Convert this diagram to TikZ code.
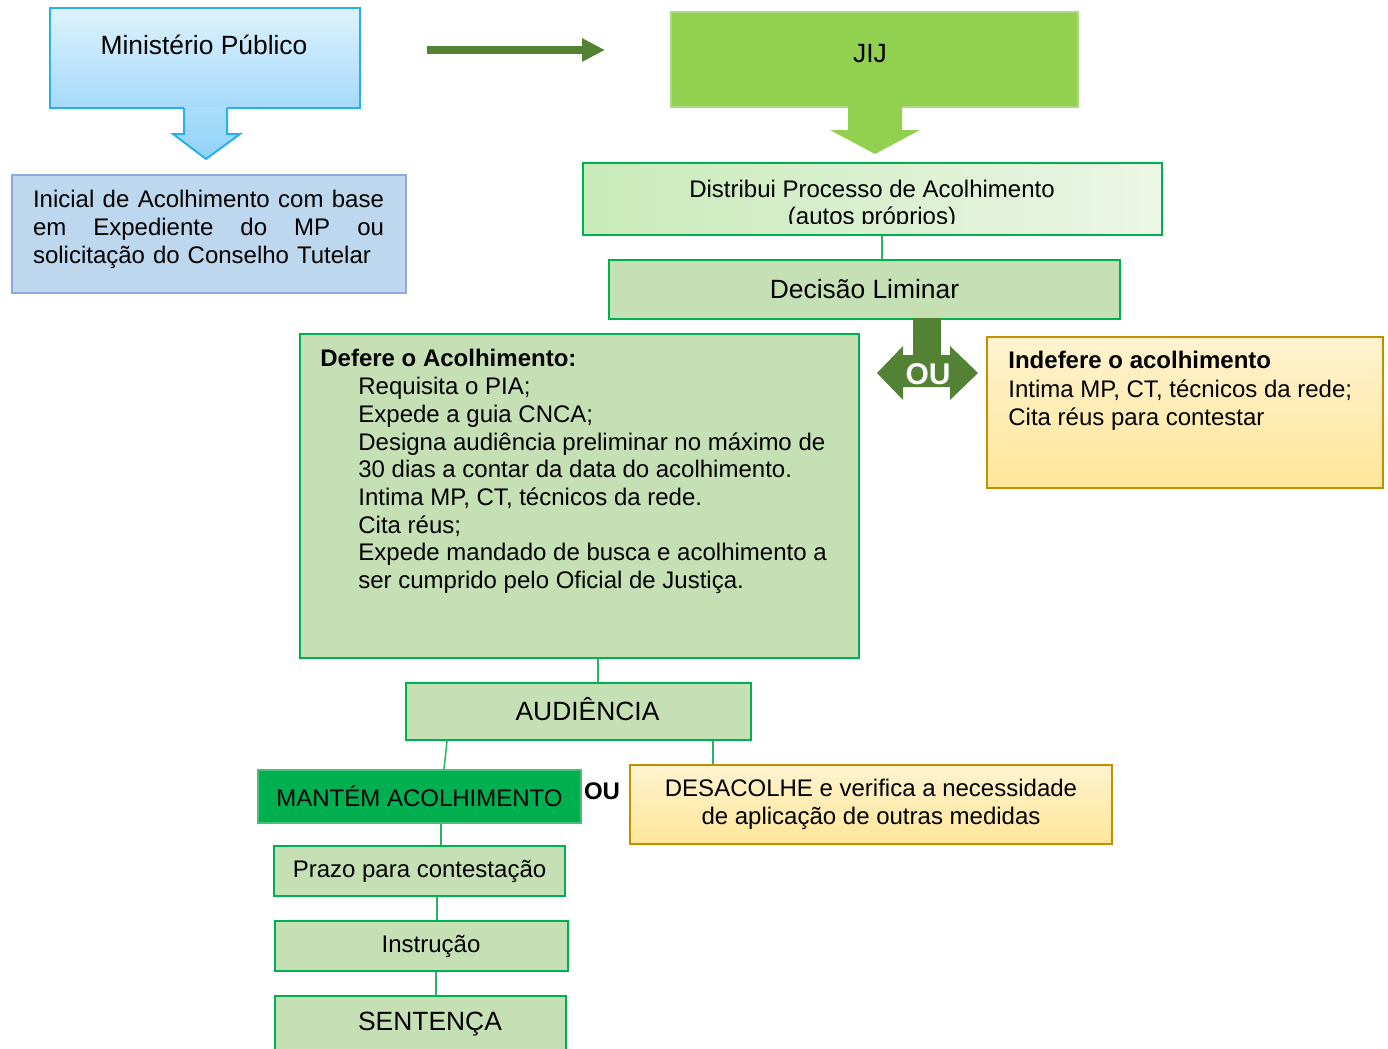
\documentclass[tikz,border=0pt]{standalone}
\usepackage{fontspec}
\setmainfont{Liberation Sans}
\usetikzlibrary{positioning,arrows.meta}

\definecolor{mptopo}{RGB}{222,242,253}
\definecolor{mpbase}{RGB}{165,218,250}
\definecolor{mpborda}{RGB}{40,176,235}
\definecolor{setatopo}{RGB}{170,222,250}
\definecolor{setabase}{RGB}{145,210,248}
\definecolor{inifundo}{RGB}{189,215,238}
\definecolor{iniborda}{RGB}{143,170,220}
\definecolor{jijverde}{RGB}{146,208,80}
\definecolor{jijborda}{RGB}{170,218,130}
\definecolor{escuro}{RGB}{84,130,53}
\definecolor{verdeclaro}{RGB}{197,224,180}
\definecolor{verdevivo}{RGB}{0,176,80}
\definecolor{mantemborda}{RGB}{70,195,120}
\definecolor{distesq}{RGB}{200,234,185}
\definecolor{distdir}{RGB}{236,246,230}
\definecolor{amarelotopo}{RGB}{255,243,208}
\definecolor{amarelobase}{RGB}{255,230,153}
\definecolor{ouro}{RGB}{191,144,0}
\definecolor{verdelinha}{RGB}{40,180,100}

\begin{document}
\begin{tikzpicture}[x=0.5pt,y=-0.5pt,
        caixa/.style={draw,line width=1pt,inner sep=0pt},
        verde/.style={caixa,draw=verdevivo,fill=verdeclaro},
        amarela/.style={caixa,draw=ouro,top color=amarelotopo,bottom color=amarelobase},
        ligacao/.style={draw=verdelinha,line width=0.75pt},
        setaescura/.style={draw=escuro,line width=4pt,-{Triangle[width=11pt,length=11.5pt]}},
        letra/.style={font=\fontsize{12}{13.85}\selectfont},
        letragrande/.style={font=\fontsize{13.2}{15}\selectfont},
        negrito/.style={font=\bfseries\fontsize{12}{13.85}\selectfont}]
                \useasboundingbox (0,0) rectangle (1388,1049);
                \node[caixa,draw=mpborda,top color=mptopo,bottom color=mpbase,minimum width=155pt,minimum height=50pt] (mp) at (205,58) {};
                \node[letragrande] (mptxt) at (204,45) {Ministério Público};
                \shade[top color=setatopo,bottom color=setabase] (184,107) -- (227,107) -- (227,134) -- (240,134) -- (206,159) -- (173,134) -- (184,134) -- cycle;
                \draw[mpborda,line width=1pt] (184,108) -- (184,134) -- (173,134) -- (206,159) -- (240,134) -- (227,134) -- (227,108);
                \node[caixa,draw=iniborda,fill=inifundo,minimum width=197pt,minimum height=59pt] (inicial) at (209,234) {};
                \node[letra,text width=175.5pt,align=left,anchor=north,inner sep=0pt] (initxt) at (208.5,190) {Inicial\hfill de\hfill Acolhimento\hfill com\hfill base\\em\hfill Expediente\hfill do\hfill MP\hfill ou\\solicitação do Conselho Tutelar};
                \node[caixa,draw=jijborda,fill=jijverde,minimum width=203.5pt,minimum height=47.5pt] (jij) at (874.5,59.5) {};
                \node[letragrande] (jijtxt) at (870,54) {JIJ};
                \coordinate (h1) at ([xshift=33pt,yshift=4pt]mp.east);
                \coordinate (h2) at ([xshift=-32.5pt]jij.west);
                \draw[setaescura] (h1) -- (h1 -| h2);
                \fill[jijverde] (848,106) -- (902,106) -- (902,130) -- (920,130) -- (875,154) -- (830,130) -- (848,130) -- cycle;
                \node[caixa,draw=verdevivo,left color=distesq,right color=distdir,minimum width=289.5pt,minimum height=36pt] (dist) at (872.5,199) {};
                \begin{scope}
                \clip (584,164) rectangle (1161,223);
                \node[align=center,font=\fontsize{12}{13.5}\selectfont] (disttxt) at (872,205) {Distribui Processo de Acolhimento\\(autos próprios)};
                \end{scope}
                \node[verde,letragrande,minimum width=255.5pt,minimum height=29.5pt] (decisao) at (864.5,289.5) {Decisão Liminar};
                \fill[escuro] (913,318) -- (941,318) -- (941,355) -- (950,355) -- (950,346) -- (978,373) -- (950,400) -- (950,387) -- (903,387) -- (903,400) -- (877,373) -- (903,346) -- (903,355) -- (913,355) -- cycle;
                \node[font=\bfseries\fontsize{15}{15}\selectfont,text=white] (ou1) at (928,374) {OU};
                \node[verde,minimum width=279.5pt,minimum height=162pt] (defere) at (579.5,496) {};
                \node[negrito,anchor=north west,inner sep=0pt] (defhead) at (320,349) {Defere o Acolhimento:};
                \node[letra,anchor=north west,inner sep=0pt,align=left] (deflist) at (358,377) {Requisita o PIA;\\Expede a guia CNCA;\\Designa audiência preliminar no máximo de\\30 dias a contar da data do acolhimento.\\Intima MP, CT, técnicos da rede.\\Cita réus;\\Expede mandado de busca e acolhimento a\\ser cumprido pelo Oficial de Justiça.};
                \node[amarela,minimum width=198pt,minimum height=75.5pt] (indefere) at (1185,412.5) {};
                \node[anchor=north west,inner sep=0pt,align=left,font=\fontsize{12}{14.25}\selectfont] (indtxt) at (1008,351) {\textbf{Indefere o acolhimento}\\Intima MP, CT, técnicos da rede;\\Cita réus para contestar};
                \node[verde,minimum width=172.5pt,minimum height=28.5pt] (aud) at (578.5,711.5) {};
                \node[letragrande] (audtxt) at ([xshift=4.5pt,yshift=1.25pt]aud.center) {AUDIÊNCIA};
                \node[caixa,draw=mantemborda,fill=verdevivo,letra,minimum width=161.5pt,minimum height=26.5pt] (mantem) at (419.5,796.5) {MANTÉM ACOLHIMENTO};
                \node[negrito] (ou2) at (602,791) {OU};
                \node[amarela,align=center,font=\fontsize{12}{14}\selectfont,minimum width=241pt,minimum height=39.5pt] (desac) at (871,804.5) {DESACOLHE e verifica a necessidade\\de aplicação de outras medidas};
                \node[verde,letra,minimum width=145.5pt,minimum height=25pt,below=10.5pt of mantem] (prazo) {Prazo para contestação};
                \node[verde,minimum width=146.5pt,minimum height=25pt,below=11.5pt of prazo,xshift=1pt] (instr) {};
                \node[letra] (instrtxt) at ([xshift=4.75pt]instr.center) {Instrução};
                \node[verde,minimum width=145.5pt,minimum height=28pt,below=11.5pt of instr,xshift=-0.5pt] (sent) {};
                \node[letragrande] (senttxt) at ([xshift=4.75pt]sent.center) {SENTENÇA};
                \coordinate (l1) at ([xshift=4.75pt]dist.south);
                \draw[ligacao] (l1) -- (l1 |- decisao.north);
                \coordinate (l2) at ([xshift=9.25pt]defere.south);
                \draw[ligacao] (l2) -- (l2 |- aud.north);
                \draw[ligacao] ([xshift=-65.75pt]aud.south) -- ([xshift=12.25pt]mantem.north);
                \coordinate (l3) at ([xshift=67.25pt]aud.south);
                \draw[ligacao] (l3) -- (l3 |- desac.north);
                \coordinate (l4) at ([xshift=10.75pt]mantem.south);
                \draw[ligacao] (l4) -- (l4 |- prazo.north);
                \coordinate (l5) at ([xshift=8.75pt]prazo.south);
                \draw[ligacao] (l5) -- (l5 |- instr.north);
                \coordinate (l6) at ([xshift=7.25pt]instr.south);
                \draw[ligacao] (l6) -- (l6 |- sent.north);
            \end{tikzpicture}
\end{document}
